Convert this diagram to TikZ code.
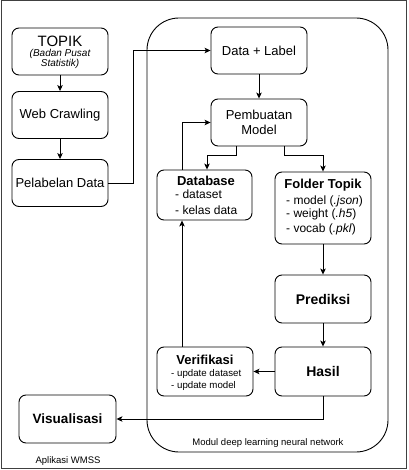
\documentclass[tikz,border=0pt]{standalone}
\usepackage{fontspec}
\setmainfont{Liberation Sans}
\usetikzlibrary{arrows.meta,calc}
\begin{document}
\begin{tikzpicture}[x=1pt,y=-1pt,
  box/.style={draw=black,line width=0.9pt,rounded corners=7pt,inner sep=0pt},
  arr/.style={draw=black,line width=0.9pt,-{Stealth[length=6pt,width=5.5pt,inset=1.5pt]}},
  ln/.style={draw=black,line width=0.9pt},
  txt/.style={inner sep=0pt,font=\fontsize{12}{14}\selectfont}]
\useasboundingbox (0,0) rectangle (408,470);
% outer frame
\draw[draw=black!75,line width=1pt] (1,1) rectangle (406,468);
% container
\draw[line width=0.9pt,rounded corners=32pt] (147,18) rectangle (388,452);
\node[txt,font=\fontsize{9.5}{11}\selectfont] (modlbl) at (268,443) {Modul deep learning neural network};
\node[txt,font=\fontsize{9.5}{11}\selectfont] (applbl) at (68,461) {Aplikasi WMSS};

% boxes
\node[box,minimum width=96pt,minimum height=47pt] (topik) at (60,51.5) {};
\node[txt,font=\fontsize{15}{17}\selectfont] (topikt) at (60,41.5) {TOPIK};
\node[txt,font=\fontsize{10}{11}\selectfont\itshape,align=center] (topiks) at (60,59) {(Badan Pusat\\[-1.5pt]Statistik)};

\node[box,minimum width=96pt,minimum height=47pt,font=\fontsize{13}{15}\selectfont] (web) at (60,115) {Web Crawling};
\node[box,minimum width=96pt,minimum height=47pt,font=\fontsize{13}{15}\selectfont] (pel) at (60,183) {Pelabelan Data};

\node[box,minimum width=96pt,minimum height=47pt,font=\fontsize{13}{15}\selectfont] (dl) at (259,50.5) {Data + Label};
\node[box,minimum width=96pt,minimum height=47pt,font=\fontsize{13}{14.5}\selectfont,align=center] (pm) at (259,122.5) {Pembuatan\\Model};

\node[box,minimum width=95pt,minimum height=50pt] (db) at (204.5,195) {};
\node[txt,font=\fontsize{13}{15}\selectfont\bfseries] (dbt) at (206,181) {Database};
\node[txt,anchor=west] (db1) at (175,194) {- dataset};
\node[txt,anchor=west] (db2) at (175,210) {- kelas data};

\node[box,minimum width=96pt,minimum height=72pt] (ft) at (323,208) {};
\node[txt,font=\fontsize{13}{15}\selectfont\bfseries] (ftt) at (323,185) {Folder Topik};
\node[txt,anchor=west] (ft1) at (286,201) {- model (\textit{.json})};
\node[txt,anchor=west] (ft2) at (286,214.5) {- weight (\textit{.h5})};
\node[txt,anchor=west] (ft3) at (286,229) {- vocab (\textit{.pkl})};

\node[box,minimum width=96pt,minimum height=48pt,font=\fontsize{14}{16}\selectfont\bfseries] (pred) at (323,299) {Prediksi};
\node[box,minimum width=96pt,minimum height=49pt,font=\fontsize{14}{16}\selectfont\bfseries] (hasil) at (323,371.5) {Hasil};

\node[box,minimum width=96pt,minimum height=49pt] (ver) at (205,371.5) {};
\node[txt,font=\fontsize{13}{15}\selectfont\bfseries] (vert) at (205,360) {Verifikasi};
\node[txt,anchor=west,font=\fontsize{9.7}{11}\selectfont] (ver1) at (171,374) {- update dataset};
\node[txt,anchor=west,font=\fontsize{9.7}{11}\selectfont] (ver2) at (171,386) {- update model};

\node[box,minimum width=97pt,minimum height=48pt,font=\fontsize{13.5}{16}\selectfont\bfseries] (vis) at (67.5,419) {Visualisasi};

% connectors
\draw[arr] (topik.south) -- (web.north);
\draw[arr] (web.south) -- (pel.north);
\draw[arr] (pel.east) -- ++(25,0) |- (dl.west);
\draw[arr] (dl.south) -- (pm.north);
\draw[arr] ([xshift=-23pt]pm.south) -- ++(0,9) -| ([xshift=2.5pt]db.north);
\draw[arr] ([xshift=25pt]pm.south) -- ++(0,9) -| (ft.north);
\draw[arr] ([xshift=-22.5pt]db.north) |- (pm.west);
\draw[arr] ([xshift=-23pt]ver.north) -- ([xshift=-22.5pt]db.south);
\draw[arr] (ft.south) -- (pred.north);
\draw[arr] (pred.south) -- (hasil.north);
\draw[arr] (hasil.west) -- (ver.east);
\draw[arr] (hasil.south) |- (vis.east);
\end{tikzpicture}
\end{document}
